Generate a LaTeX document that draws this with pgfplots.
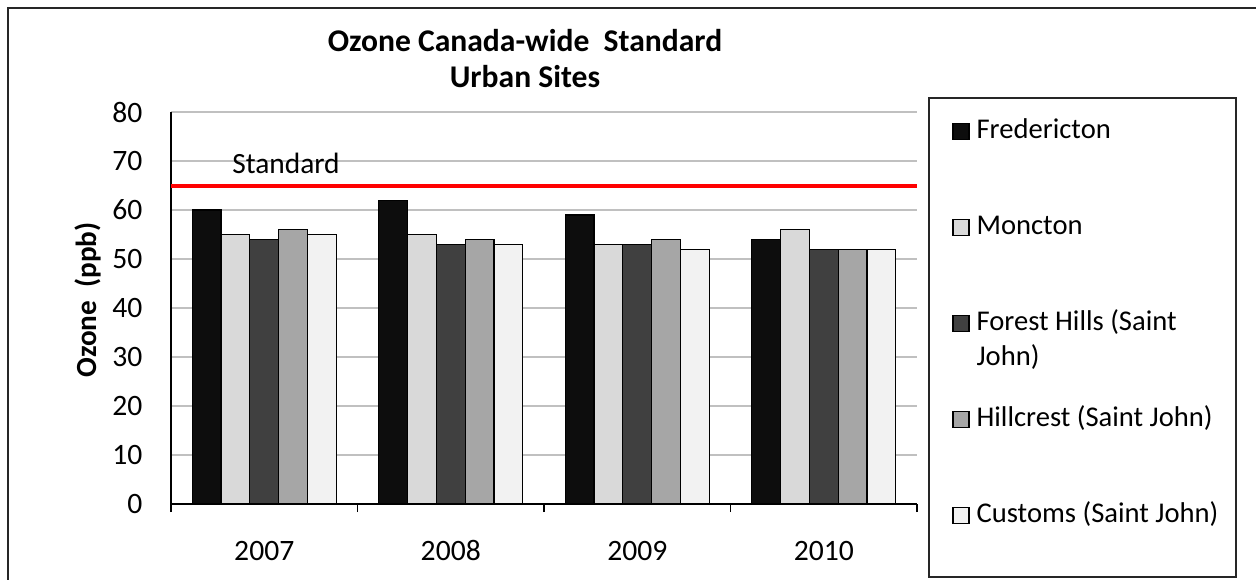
\documentclass[border=0pt]{standalone}
\usepackage{pgfplots}
\pgfplotsset{compat=1.18}
\usepackage{fontspec}
\setmainfont{Carlito}
\definecolor{cFred}{HTML}{0D0D0D}
\definecolor{cMonc}{HTML}{D9D9D9}
\definecolor{cFore}{HTML}{404040}
\definecolor{cHill}{HTML}{A6A6A6}
\definecolor{cCust}{HTML}{F2F2F2}
\definecolor{cGrid}{HTML}{C0C0C0}
\begin{document}
\begin{tikzpicture}
\useasboundingbox (-85.5pt,-37.5pt) rectangle (542.5pt,252pt);
\draw[line width=0.8pt, black!85] (-81.5pt,-40pt) -- (-81.5pt,248pt) -- (545pt,248pt);
\draw[line width=0.6pt, black!85] (379pt,203pt) rectangle (532.5pt,-36.5pt);
\begin{axis}[
  scale only axis, width=373pt, height=196pt,
  xmin=-0.5, xmax=3.5, ymin=0, ymax=80,
  ybar=0pt, bar width=14.4pt,
  ytick={0,10,...,80},
  xtick={0,1,2,3}, xticklabels={2007,2008,2009,2010},
  minor xtick={-0.5,0.5,1.5,2.5,3.5},
  tick align=outside,
  major x tick style={draw=none},
  minor x tick style={black, line width=0.6pt},
  minor tick length=4pt,
  ytick style={draw=none},
  xtick pos=bottom, ytick pos=left,
  axis x line*=bottom, axis y line*=left,
  axis line style={-, black, line width=0.6pt},
  ymajorgrids, grid style={cGrid, line width=0.7pt},
  /pgf/number format/assume math mode=true,
  tick label style={font=\fontsize{14.8}{17}\selectfont},
  yticklabel style={xshift=-6.5pt},
  xticklabel style={anchor=base, text height=9pt, text depth=0pt, yshift=-24pt},
  ylabel={Ozone \ (ppb)},
  ylabel style={font=\fontsize{14.6}{17}\selectfont\bfseries, at={(axis description cs:-0.1113,0.5204)}, anchor=center},
  legend cell align=left,
  legend style={draw=none, fill=none, inner sep=0pt, at={(1.0469,0.9847)}, anchor=north west,
    row sep=35pt, column sep=3.5pt,
    font=\fontsize{14.3}{17.5}\selectfont,
    nodes={inner sep=0pt, text height=10pt, text depth=3pt}},
  legend image code/.code={\draw[#1, draw=black, line width=0.6pt] (0pt,-4pt) rectangle (8pt,4pt);},
  every axis plot/.append style={draw=black, line width=0.6pt},
]
\addplot[fill=cFred] coordinates {(0,60) (1,62) (2,59) (3,54)};
\addlegendentry{Fredericton}
\addplot[fill=cMonc] coordinates {(0,55) (1,55) (2,53) (3,56)};
\addlegendentry{Moncton}
\addplot[fill=cFore] coordinates {(0,54) (1,53) (2,53) (3,52)};
\addlegendentry{\raisebox{0pt}[\height][0pt]{\parbox[t]{128pt}{\raggedright Forest Hills (Saint\\John)}}}
\addplot[fill=cHill] coordinates {(0,56) (1,54) (2,54) (3,52)};
\addlegendentry{Hillcrest (Saint John)}
\addplot[fill=cCust] coordinates {(0,55) (1,53) (2,52) (3,52)};
\addlegendentry{Customs (Saint John)}
\addplot[sharp plot, forget plot, draw=red, line width=2pt] coordinates {(-0.5,65) (3.5,65)};
\node[anchor=base, font=\fontsize{14.7}{17}\selectfont] at (axis cs:0.1166,67.35) {Standard};
\end{axis}
\node[anchor=base, font=\fontsize{15.8}{18}\selectfont\bfseries] at (177pt,226pt) {Ozone Canada-wide \ Standard};
\node[anchor=base, font=\fontsize{15.8}{18}\selectfont\bfseries] at (177pt,208pt) {Urban Sites};
\end{tikzpicture}
\end{document}
